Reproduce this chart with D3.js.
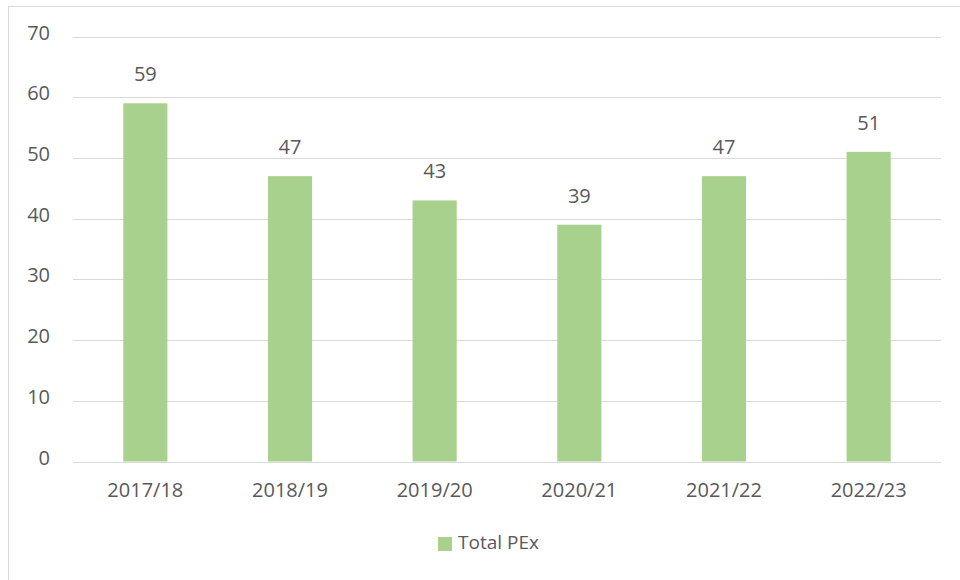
<!DOCTYPE html>
<html>
<head>
<meta charset="utf-8">
<script src="https://cdn.jsdelivr.net/npm/d3@7"></script>
<style>
  body { margin: 0; background: #fff; }
  text { font-family: "Open Sans", "Noto Sans", sans-serif; fill: #595959; }
</style>
</head>
<body>
<svg id="chart" width="960" height="580"></svg>
<script>
var years = ["2017/18", "2018/19", "2019/20", "2020/21", "2021/22", "2022/23"];
var totalPEx = [59, 47, 43, 39, 47, 51];
var yTicks = [0, 10, 20, 30, 40, 50, 60, 70];
var seriesName = "Total PEx";

var svg = d3.select("#chart");
var barColor = "#a9d18e";

// chart frame
svg.append("rect")
  .attr("x", 8.5).attr("y", 6.5)
  .attr("width", 960).attr("height", 600)
  .attr("fill", "none")
  .attr("stroke", "#d9d9d9");

var plotLeft = 73, plotRight = 941, plotTop = 36.5, plotBottom = 461.5;

var x = d3.scaleBand()
  .domain(years)
  .range([plotLeft, plotRight])
  .paddingInner(0.695)
  .paddingOuter(0.3475);

var y = d3.scaleLinear()
  .domain([0, 70])
  .range([plotBottom, plotTop]);

// gridlines
svg.append("g")
  .selectAll("line")
  .data(yTicks)
  .enter()
  .append("line")
  .attr("x1", plotLeft).attr("x2", plotRight)
  .attr("y1", d => Math.round(y(d)) + 0.5)
  .attr("y2", d => Math.round(y(d)) + 0.5)
  .attr("stroke", "#d9d9d9")
  .attr("stroke-width", 1);

// y labels
svg.append("g")
  .selectAll("text")
  .data(yTicks)
  .enter()
  .append("text")
  .attr("x", 50)
  .attr("y", d => y(d) + 3)
  .attr("text-anchor", "end")
  .style("font-size", "20px")
  .text(d => d);

// bars
svg.append("g")
  .selectAll("rect")
  .data(totalPEx)
  .enter()
  .append("rect")
  .attr("x", (d, i) => x(years[i]))
  .attr("width", x.bandwidth())
  .attr("y", d => y(d))
  .attr("height", d => plotBottom - y(d))
  .attr("fill", barColor);

// value labels
svg.append("g")
  .selectAll("text")
  .data(totalPEx)
  .enter()
  .append("text")
  .attr("x", (d, i) => x(years[i]) + x.bandwidth() / 2)
  .attr("y", d => y(d) - 22)
  .attr("text-anchor", "middle")
  .style("font-size", "20px")
  .text(d => d);

// x labels
svg.append("g")
  .selectAll("text")
  .data(years)
  .enter()
  .append("text")
  .attr("x", d => x(d) + x.bandwidth() / 2)
  .attr("y", 497)
  .attr("text-anchor", "middle")
  .style("font-size", "20px")
  .text(d => d);

// legend
svg.append("rect")
  .attr("x", 438).attr("y", 537)
  .attr("width", 14).attr("height", 14)
  .attr("fill", barColor);
svg.append("text")
  .attr("x", 458).attr("y", 549)
  .style("font-size", "19px")
  .text(seriesName);
</script>
</body>
</html>
